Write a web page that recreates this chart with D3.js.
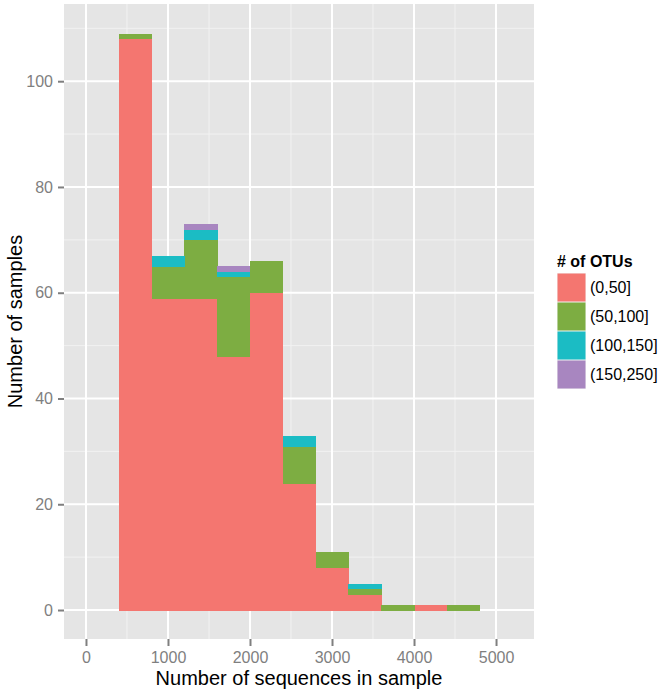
<!DOCTYPE html>
<html>
<head>
<meta charset="utf-8">
<script src="https://cdn.jsdelivr.net/npm/d3@7"></script>
<style>
  body { margin: 0; background: #fff; }
  svg { display: block; font-family: "Liberation Sans", Arial, sans-serif; }
</style>
</head>
<body>
<div id="chart"></div>
<script>
var width = 664;
var height = 692;

// histogram bins (lower edge), binwidth 400
var binStarts = [400, 800, 1200, 1600, 2000, 2400, 2800, 3200, 3600, 4000, 4400];
var binWidth = 400;
var otuGroups = ["(0,50]", "(50,100]", "(100,150]", "(150,250]"];
var counts0to50 = [108, 59, 59, 48, 60, 24, 8, 3, 0, 1, 0];
var counts50to100 = [1, 6, 11, 15, 6, 7, 3, 1, 1, 0, 1];
var counts100to150 = [0, 2, 2, 1, 0, 2, 0, 1, 0, 0, 0];
var counts150to250 = [0, 0, 1, 1, 0, 0, 0, 0, 0, 0, 0];
var groupColors = ["#F47670", "#7DAD42", "#1BBCC4", "#A886C0"];

var xTicks = [0, 1000, 2000, 3000, 4000, 5000];
var yTicks = [0, 20, 40, 60, 80, 100];
var xMinor = [500, 1500, 2500, 3500, 4500];
var yMinor = [10, 30, 50, 70, 90, 110];

var rows = binStarts.map((b, i) => ({
  x0: b,
  x1: b + binWidth,
  "(0,50]": counts0to50[i],
  "(50,100]": counts50to100[i],
  "(100,150]": counts100to150[i],
  "(150,250]": counts150to250[i],
}));

var panel = { left: 64, right: 534, top: 4, bottom: 639 };

var x = d3.scaleLinear().domain([-268, 5463]).range([panel.left, panel.right]);
var y = d3.scaleLinear().domain([-5.48, 114.6]).range([panel.bottom, panel.top]);

var svg = d3.select("#chart").append("svg")
  .attr("width", width)
  .attr("height", height);

// panel background
svg.append("rect")
  .attr("x", panel.left)
  .attr("y", panel.top)
  .attr("width", panel.right - panel.left)
  .attr("height", panel.bottom - panel.top)
  .attr("fill", "#E5E5E5");

// minor grid
svg.append("g").selectAll("line")
  .data(xMinor).enter().append("line")
  .attr("x1", (d) => x(d)).attr("x2", (d) => x(d))
  .attr("y1", panel.top).attr("y2", panel.bottom)
  .attr("stroke", "#F2F2F2").attr("stroke-width", 1);
svg.append("g").selectAll("line")
  .data(yMinor).enter().append("line")
  .attr("x1", panel.left).attr("x2", panel.right)
  .attr("y1", (d) => y(d)).attr("y2", (d) => y(d))
  .attr("stroke", "#F2F2F2").attr("stroke-width", 1);

// major grid
svg.append("g").selectAll("line")
  .data(xTicks).enter().append("line")
  .attr("x1", (d) => x(d)).attr("x2", (d) => x(d))
  .attr("y1", panel.top).attr("y2", panel.bottom)
  .attr("stroke", "#fff").attr("stroke-width", 2);
svg.append("g").selectAll("line")
  .data(yTicks).enter().append("line")
  .attr("x1", panel.left).attr("x2", panel.right)
  .attr("y1", (d) => y(d)).attr("y2", (d) => y(d))
  .attr("stroke", "#fff").attr("stroke-width", 2);

// stacked bars
var stack = d3.stack().keys(otuGroups);
var series = stack(rows);
var color = d3.scaleOrdinal().domain(otuGroups).range(groupColors);

svg.append("g").selectAll("g")
  .data(series).enter().append("g")
  .attr("fill", (d) => color(d.key))
  .selectAll("rect")
  .data((d) => d.filter((s) => s[1] > s[0]))
  .enter().append("rect")
  .attr("x", (d) => x(d.data.x0))
  .attr("width", (d) => x(d.data.x1) - x(d.data.x0) + 0.5)
  .attr("y", (d) => y(d[1]))
  .attr("height", (d) => y(d[0]) - y(d[1]) + 0.5)
  .attr("shape-rendering", "crispEdges");

// axes
var xAxis = d3.axisBottom(x).tickValues(xTicks).tickFormat(d3.format("d"))
  .tickSize(7).tickPadding(6);
var gx = svg.append("g")
  .attr("transform", `translate(0,${panel.bottom})`)
  .call(xAxis);
gx.select(".domain").remove();
gx.selectAll("line").attr("stroke", "#7F7F7F").attr("stroke-width", 2);
gx.selectAll("text").attr("fill", "#7F7F7F").style("font-size", "16px");

var yAxis = d3.axisLeft(y).tickValues(yTicks).tickFormat(d3.format("d"))
  .tickSize(6).tickPadding(5);
var gy = svg.append("g")
  .attr("transform", `translate(${panel.left},0)`)
  .call(yAxis);
gy.select(".domain").remove();
gy.selectAll("line").attr("stroke", "#7F7F7F").attr("stroke-width", 2);
gy.selectAll("text").attr("fill", "#7F7F7F").style("font-size", "16px");

// axis titles
svg.append("text")
  .attr("x", (panel.left + panel.right) / 2)
  .attr("y", 685)
  .attr("text-anchor", "middle")
  .style("font-size", "20px")
  .attr("fill", "#000")
  .text("Number of sequences in sample");

svg.append("text")
  .attr("transform", `translate(22,${(panel.top + panel.bottom) / 2}) rotate(-90)`)
  .attr("text-anchor", "middle")
  .style("font-size", "20px")
  .attr("fill", "#000")
  .text("Number of samples");

// legend
var legend = svg.append("g").attr("transform", "translate(557,0)");
legend.append("text")
  .attr("x", 0)
  .attr("y", 267)
  .style("font-size", "16px")
  .style("font-weight", "bold")
  .text("# of OTUs");

var keySize = 29;
var keyTop = 273;
var items = legend.selectAll("g.item")
  .data(otuGroups).enter().append("g")
  .attr("class", "item")
  .attr("transform", (d, i) => `translate(0,${keyTop + i * keySize})`);
items.append("rect")
  .attr("width", keySize)
  .attr("height", keySize)
  .attr("fill", "#F2F2F2");
items.append("rect")
  .attr("x", 0.5).attr("y", 0.5)
  .attr("width", keySize - 1)
  .attr("height", keySize - 1)
  .attr("fill", (d) => color(d));
items.append("text")
  .attr("x", keySize + 4)
  .attr("y", keySize / 2)
  .attr("dy", "0.35em")
  .style("font-size", "16px")
  .text((d) => d);
</script>
</body>
</html>
